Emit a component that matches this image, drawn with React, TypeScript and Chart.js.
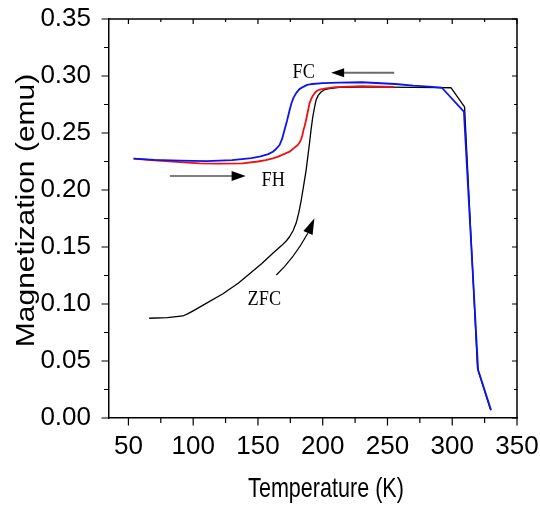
import React, { useEffect, useRef } from 'react';
import { Chart, registerables } from 'chart.js';

Chart.register(...registerables);

// ZFC curve (black)
const zfcTemp = [66, 80, 92, 96, 100, 110, 123, 135, 144, 153, 161.5, 168, 172, 174.4, 177, 179.5, 181.5, 183.4, 185.3, 187.2, 189.8, 191, 192.3, 193.6, 194.9, 196.5, 198.7, 201.5, 205, 213, 230, 250, 270, 290, 299, 309.5, 319.5, 329.5];
const zfcMag = [0.0875, 0.0881, 0.0895, 0.0915, 0.094, 0.1005, 0.109, 0.1185, 0.127, 0.1355, 0.1445, 0.151, 0.1555, 0.159, 0.164, 0.171, 0.18, 0.191, 0.204, 0.2175, 0.241, 0.253, 0.264, 0.272, 0.279, 0.283, 0.286, 0.288, 0.289, 0.29, 0.2903, 0.2902, 0.29, 0.2898, 0.2897, 0.273, 0.0435, 0.0075];

// FC curve (blue)
const fcTemp = [54, 70, 90, 110, 130, 145, 152, 158, 161.5, 164, 166.7, 168.7, 170.5, 172.5, 174.4, 176, 177.5, 179.5, 182, 185, 188, 192, 200, 213, 230, 256, 270, 282, 292, 309, 320, 330];
const fcMag = [0.2276, 0.2265, 0.2257, 0.2254, 0.2262, 0.228, 0.2295, 0.2315, 0.2336, 0.236, 0.2395, 0.245, 0.2526, 0.261, 0.27, 0.2765, 0.281, 0.285, 0.2885, 0.2905, 0.2922, 0.293, 0.2938, 0.2942, 0.2945, 0.293, 0.2915, 0.2906, 0.2897, 0.2688, 0.042, 0.0068];

// FH curve (red)
const fhTemp = [54, 70, 90, 105, 120, 138, 150, 156, 161.5, 166, 170, 174.4, 178, 180.5, 182, 183.2, 184.3, 185.1, 185.9, 187, 188, 189, 189.8, 191, 192, 193.5, 194.9, 196.5, 198.5, 202.6, 210, 230, 255];
const fhMag = [0.2276, 0.226, 0.2245, 0.2234, 0.2232, 0.2234, 0.225, 0.2262, 0.2278, 0.2295, 0.2315, 0.2336, 0.237, 0.2393, 0.2415, 0.244, 0.248, 0.2525, 0.2555, 0.2605, 0.266, 0.2715, 0.276, 0.2795, 0.282, 0.2845, 0.2863, 0.2875, 0.2883, 0.2892, 0.2903, 0.291, 0.2904];

const xTickLabels = [50, 100, 150, 200, 250, 300, 350];
const yTickLabels = [0, 0.05, 0.1, 0.15, 0.2, 0.25, 0.3, 0.35];

const toPoints = (xs: number[], ys: number[]) => xs.map((x, i) => ({ x, y: ys[i] }));

const SANS = '"Liberation Sans", Arial, sans-serif';
const SERIF = '"Liberation Serif", "Times New Roman", serif';

function squeezedText(ctx: CanvasRenderingContext2D, text: string, x: number, y: number, sx: number, align: CanvasTextAlign) {
    ctx.save();
    ctx.translate(x, y);
    ctx.scale(sx, 1);
    ctx.textAlign = align;
    ctx.textBaseline = 'alphabetic';
    ctx.fillText(text, 0, 0);
    ctx.restore();
}

function arrowHead(ctx: CanvasRenderingContext2D, tx: number, ty: number, ang: number, len: number, half: number) {
    const bx = tx - len * Math.cos(ang);
    const by = ty - len * Math.sin(ang);
    ctx.beginPath();
    ctx.moveTo(tx, ty);
    ctx.lineTo(bx + half * Math.sin(ang), by - half * Math.cos(ang));
    ctx.lineTo(bx - half * Math.sin(ang), by + half * Math.cos(ang));
    ctx.closePath();
    ctx.fill();
}

const framePlugin = {
    id: 'frameAndNotes',
    afterDraw(chart: any) {
        const { ctx, chartArea, scales } = chart;
        const { left, right, top, bottom } = chartArea;
        const x = scales.x;
        const y = scales.y;
        const px = (v: number) => x.getPixelForValue(v);
        const py = (v: number) => y.getPixelForValue(v);
        ctx.save();

        // top + right frame
        ctx.strokeStyle = '#000';
        ctx.lineWidth = 1.5;
        ctx.beginPath();
        ctx.moveTo(left, top);
        ctx.lineTo(right, top);
        ctx.lineTo(right, bottom);
        ctx.stroke();

        // ticks, major + minor
        ctx.lineWidth = 1.2;
        ctx.beginPath();
        xTickLabels.forEach((v, i) => {
            const marks = [{ v, major: true }];
            if (i < xTickLabels.length - 1) marks.push({ v: (v + xTickLabels[i + 1]) / 2, major: false });
            marks.forEach(m => {
                const p = px(m.v);
                ctx.moveTo(p, bottom);
                ctx.lineTo(p, bottom + (m.major ? 7.5 : 5));
                ctx.moveTo(p, top);
                ctx.lineTo(p, top + (m.major ? 5 : 3));
            });
        });
        yTickLabels.forEach((v, i) => {
            const marks = [{ v, major: true }];
            if (i < yTickLabels.length - 1) marks.push({ v: (v + yTickLabels[i + 1]) / 2, major: false });
            marks.forEach(m => {
                const p = py(m.v);
                ctx.moveTo(left, p);
                ctx.lineTo(left - (m.major ? 7.5 : 5), p);
                ctx.moveTo(right, p);
                ctx.lineTo(right - (m.major ? 5 : 3), p);
            });
        });
        ctx.stroke();

        // axis titles (source picture is horizontally squeezed)
        ctx.fillStyle = '#000';
        ctx.font = `28px ${SANS}`;
        squeezedText(ctx, 'Temperature (K)', (left + right) / 2 + 13, bottom + 79, 0.77, 'center');
        ctx.save();
        ctx.translate(left - 75.5, (top + bottom) / 2 - 8);
        ctx.rotate(-Math.PI / 2);
        ctx.scale(1, 0.85);
        ctx.font = `30px ${SANS}`;
        ctx.textAlign = 'center';
        ctx.textBaseline = 'alphabetic';
        ctx.fillText('Magnetization (emu)', 0, 0);
        ctx.restore();

        // annotations
        ctx.font = `22px ${SERIF}`;
        squeezedText(ctx, 'FC', px(176.7), py(0.2982), 0.83, 'left');
        squeezedText(ctx, 'FH', px(152.8), py(0.2035), 0.83, 'left');
        squeezedText(ctx, 'ZFC', px(142), py(0.0991), 0.83, 'left');

        // FC arrow (pointing left)
        ctx.strokeStyle = '#6b6b6b';
        ctx.lineWidth = 2;
        ctx.beginPath();
        ctx.moveTo(px(255.2), py(0.3029));
        ctx.lineTo(px(206.5) + 10, py(0.3029));
        ctx.stroke();
        ctx.fillStyle = '#000';
        arrowHead(ctx, px(206.5), py(0.3029), Math.PI, 13, 4.5);

        // FH arrow (pointing right)
        ctx.strokeStyle = '#000';
        ctx.lineWidth = 1.2;
        ctx.beginPath();
        ctx.moveTo(px(82), py(0.2123));
        ctx.lineTo(px(140.5) - 10, py(0.2123));
        ctx.stroke();
        arrowHead(ctx, px(140.5), py(0.2123), 0, 14, 5);

        // ZFC curved arrow
        const sx = px(164.2), sy = py(0.1254);
        const cx = px(177.5), cy = py(0.1395);
        const ex = px(188.5), ey = py(0.162);
        const tx = px(193.6), ty = py(0.1752);
        ctx.beginPath();
        ctx.moveTo(sx, sy);
        ctx.quadraticCurveTo(cx, cy, ex, ey);
        ctx.stroke();
        arrowHead(ctx, tx, ty, Math.atan2(ty - ey, tx - ex), 16, 5);

        ctx.restore();
    },
};

export default function App() {
    const canvasRef = useRef<HTMLCanvasElement>(null);

    useEffect(() => {
        if (!canvasRef.current) return;
        const tickFont = { family: SANS, size: 26 };
        const chart = new Chart(canvasRef.current, {
            type: 'line',
            data: {
                datasets: [
                    { label: 'FC', data: toPoints(fcTemp, fcMag), borderColor: '#0a14f0', borderWidth: 1.8, order: 0 },
                    { label: 'FH', data: toPoints(fhTemp, fhMag), borderColor: '#f01010', borderWidth: 1.8, order: 1 },
                    { label: 'ZFC', data: toPoints(zfcTemp, zfcMag), borderColor: '#000', borderWidth: 1.3, order: 2 },
                ],
            },
            options: {
                animation: false,
                responsive: true,
                maintainAspectRatio: false,
                layout: { padding: { top: 19, right: 23, left: 0, bottom: 0 } },
                elements: {
                    point: { radius: 0 },
                    line: { tension: 0, fill: false, borderJoinStyle: 'round' },
                },
                plugins: { legend: { display: false }, tooltip: { enabled: false } },
                scales: {
                    x: {
                        type: 'linear',
                        min: 35,
                        max: 350,
                        grid: { display: false },
                        border: { display: true, color: '#000', width: 1.5 },
                        ticks: { color: '#000', font: tickFont, padding: 5, maxRotation: 0, autoSkip: false },
                        afterBuildTicks: (s: any) => {
                            s.ticks = xTickLabels.map(v => ({ value: v }));
                        },
                        afterFit: (s: any) => {
                            s.height = 92;
                            s.paddingLeft = 0;
                            s.paddingRight = 0;
                        },
                    },
                    y: {
                        type: 'linear',
                        min: 0,
                        max: 0.35,
                        grid: { display: false },
                        border: { display: true, color: '#000', width: 1.5 },
                        ticks: {
                            color: '#000',
                            font: tickFont,
                            padding: 10,
                            callback: (v: any) => Number(v).toFixed(2),
                        },
                        afterBuildTicks: (s: any) => {
                            s.ticks = yTickLabels.map(v => ({ value: v }));
                        },
                        afterFit: (s: any) => {
                            s.width = 109;
                            s.paddingTop = 0;
                            s.paddingBottom = 0;
                        },
                    },
                },
            },
            plugins: [framePlugin],
        });
        return () => chart.destroy();
    }, []);

    return (
        <div style={{ position: 'absolute', left: 0, top: 0, width: 540, height: 510, background: '#fff' }}>
            <canvas ref={canvasRef} />
        </div>
    );
}
